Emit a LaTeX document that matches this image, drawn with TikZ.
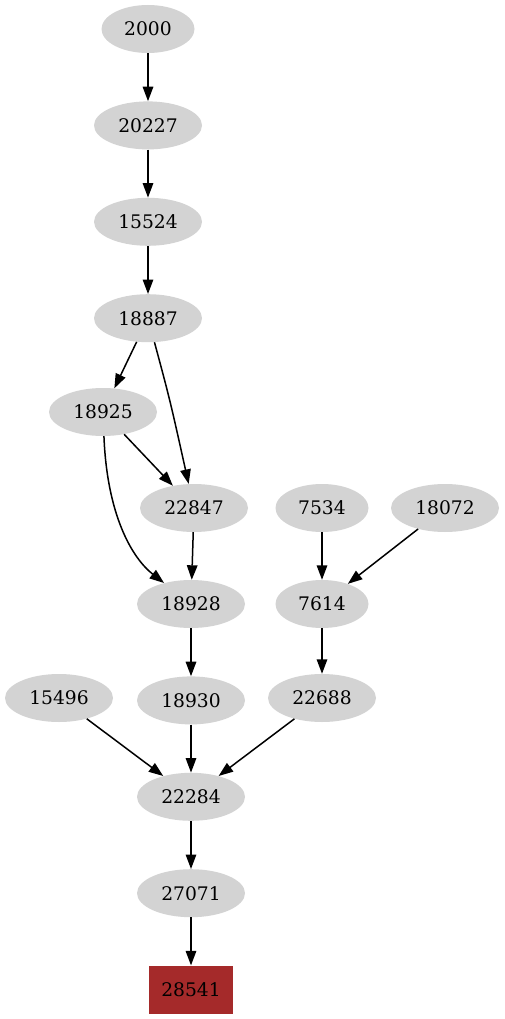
\documentclass[tikz,border=0pt]{standalone}
\usepackage{fontspec}
\setmainfont{DejaVu Serif}
\usepackage{tikz}
\usetikzlibrary{arrows.meta,positioning,shapes.geometric}
\definecolor{nodegray}{HTML}{D3D3D3}
\definecolor{target}{HTML}{A52A2A}

\begin{document}
\begin{tikzpicture}[x=1pt,y=-1pt,node distance=48pt,
  blob/.style={ellipse,fill=nodegray,minimum width=108pt,minimum height=48pt,inner sep=0pt,font=\fontsize{18.7}{22}\selectfont},
  short/.style={blob,minimum width=93pt},
  sink/.style={rectangle,fill=target,minimum width=84pt,minimum height=48pt,inner sep=0pt,font=\fontsize{18.7}{22}\selectfont},
  link/.style={line width=1.5pt,-{Triangle[length=14.5pt,width=10.5pt]}}]
\useasboundingbox (0,0) rectangle (505,1019);
\node[short] (n2000) at (148,29) {2000};
\node[blob,below=of n2000] (n20227) {20227};
\node[blob,below=of n20227] (n15524) {15524};
\node[blob,below=of n15524] (n18887) {18887};
\node[blob] (n18925) at (103,412) {18925};
\node[blob] (n22847) at (194,508) {22847};
\node[short] (n7534) at (322,508) {7534};
\node[blob] (n18072) at (445,508) {18072};
\node[blob] (n18928) at (191,604) {18928};
\node[short] (n7614) at (322,604) {7614};
\node[blob] (n15496) at (59,698) {15496};
\node[blob,below=of n18928] (n18930) {18930};
\node[blob] (n22688) at (322,698) {22688};
\node[blob,below=of n18930] (n22284) {22284};
\node[blob,below=of n22284] (n27071) {27071};
\node[sink,below=of n27071] (n28541) {28541};
\draw[link] (n2000)--(n20227); \draw[link] (n20227)--(n15524); \draw[link] (n15524)--(n18887);
\draw[link] (n18887)--(n18925);
\draw[link] (n18887) .. controls (170,400) .. (n22847);
\draw[link] (n18925)--(n22847);
\draw[link] (n18925) .. controls (107,515) and (132,558) .. (n18928);
\draw[link] (n22847)--(n18928);
\draw[link] (n7534)--(n7614); \draw[link] (n18072)--(n7614);
\draw[link] (n18928)--(n18930); \draw[link] (n7614)--(n22688);
\draw[link] (n15496)--(n22284); \draw[link] (n18930)--(n22284); \draw[link] (n22688)--(n22284);
\draw[link] (n22284)--(n27071); \draw[link] (n27071)--(n28541);
\end{tikzpicture}
\end{document}
